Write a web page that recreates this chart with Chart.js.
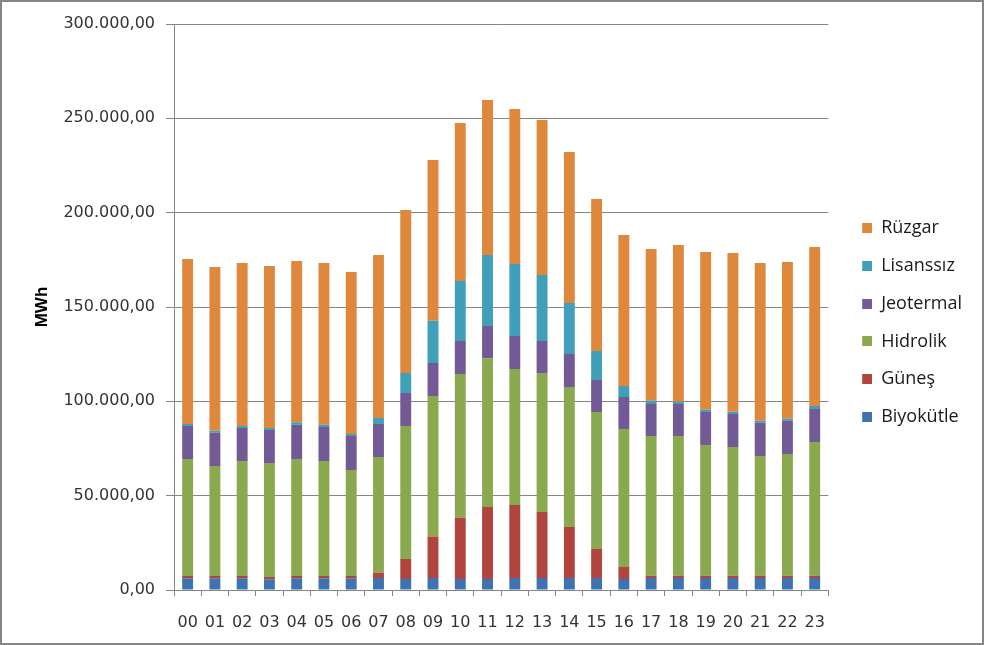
<!DOCTYPE html>
<html>
<head>
<meta charset="utf-8">
<script src="https://cdn.jsdelivr.net/npm/chart.js@4/dist/chart.umd.min.js"></script>
<style>
  html, body { margin: 0; padding: 0; background: #fff; }
  #wrap { width: 984px; height: 645px; position: relative; }
</style>
</head>
<body>
<div id="wrap"><canvas id="energy-chart"></canvas></div>
<script>
// hours of the day
const hours = ["00", "01", "02", "03", "04", "05", "06", "07", "08", "09", "10", "11",
  "12", "13", "14", "15", "16", "17", "18", "19", "20", "21", "22", "23"];

// MWh per source
const biyokutle = [6200, 6200, 6200, 5700, 6200, 6200, 6200, 6400, 5800, 6400, 5800, 5800,
  6400, 6400, 6400, 6400, 5800, 6400, 6400, 6400, 6400, 6400, 6400, 6400];
const gunes = [1200, 1200, 1200, 1200, 1200, 1200, 1200, 2800, 10600, 21900, 32500, 38200,
  38600, 34900, 27000, 15300, 6400, 1200, 1200, 1200, 1200, 1200, 1200, 1200];
const hidrolik = [62000, 58300, 61000, 60400, 62000, 61000, 56200, 61300, 70500, 74500, 76200, 78900,
  72100, 73700, 74200, 72600, 73100, 74000, 74000, 69200, 68200, 63400, 64500, 70800];
const jeotermal = [17500, 17700, 17500, 17500, 18200, 18000, 18000, 17500, 17500, 17500, 17500, 17000,
  17500, 17000, 17500, 17000, 17000, 17000, 17000, 17500, 17500, 17700, 17600, 17500];
const lisanssiz = [1100, 1000, 1000, 1100, 1300, 1200, 1100, 3100, 10600, 22400, 31800, 37600,
  38200, 34900, 27000, 15400, 5800, 1700, 1200, 1200, 1200, 1000, 1100, 1600];
const ruzgar = [87400, 86800, 86400, 85800, 85500, 85700, 85800, 86400, 86400, 85200, 83700, 82200,
  82100, 82200, 80000, 80500, 80000, 80400, 83000, 83600, 84100, 83600, 83000, 84300];

const yMax = 300000;
const yStep = 50000;

// 150000 -> "150.000,00"
function trNumber(v) {
  return Math.round(v).toString().replace(/\B(?=(\d{3})+(?!\d))/g, ".") + ",00";
}

const axisGray = "#868686";

// outer frame like the excel chart border
const framePlugin = {
  id: "frame",
  afterDraw(chart) {
    const ctx = chart.ctx;
    ctx.save();
    ctx.strokeStyle = axisGray;
    ctx.lineWidth = 2;
    ctx.strokeRect(1, 1, chart.width - 2, chart.height - 2);
    ctx.restore();
  }
};

// legend marker: 10x10 square sitting on the right of a wider transparent strip,
// so the square stands further away from the plot like in excel
function legendSwatch(color) {
  const c = document.createElement("canvas");
  c.width = 24;
  c.height = 10;
  const g = c.getContext("2d");
  g.fillStyle = color;
  g.fillRect(14, 0, 10, 10);
  return c;
}

const series = [
  { label: "Biyokütle", data: biyokutle, color: "#3f72b0" },
  { label: "Güneş", data: gunes, color: "#b0453f" },
  { label: "Hidrolik", data: hidrolik, color: "#8aa84e" },
  { label: "Jeotermal", data: jeotermal, color: "#715a95" },
  { label: "Lisanssız", data: lisanssiz, color: "#41a0b9" },
  { label: "Rüzgar", data: ruzgar, color: "#df873b" }
];

const chartCanvas = document.getElementById("energy-chart");

const energyChart = new Chart(chartCanvas, {
  type: "bar",
  data: {
    labels: hours,
    datasets: series.map((s) => ({
      label: s.label,
      data: s.data,
      backgroundColor: s.color,
      borderWidth: 0,
      barPercentage: 0.4,
      categoryPercentage: 1
    }))
  },
  options: {
    responsive: true,
    maintainAspectRatio: false,
    animation: false,
    layout: {
      padding: { top: 0, left: 0, bottom: 0, right: 12 }
    },
    plugins: {
      tooltip: { enabled: false },
      // empty title only keeps 24px free above the plot
      title: {
        display: true,
        text: "",
        padding: 0,
        font: { size: 20, lineHeight: 1.2 }
      },
      legend: {
        position: "right",
        reverse: true,
        labels: {
          usePointStyle: true,
          pointStyleWidth: 24,
          boxHeight: 10,
          padding: 19.8,
          color: "#1a1a1a",
          font: { family: "'Open Sans', sans-serif", size: 18 },
          generateLabels: (chart) =>
            Chart.defaults.plugins.legend.labels.generateLabels(chart).map((item) => {
              item.pointStyle = legendSwatch(item.fillStyle);
              return item;
            })
        }
      }
    },
    scales: {
      x: {
        stacked: true,
        afterFit: (scale) => { scale.height = 55; },
        border: { color: axisGray, width: 1 },
        grid: {
          offset: true,
          drawOnChartArea: false,
          color: axisGray,
          tickLength: 6
        },
        ticks: {
          padding: 17,
          color: "#333",
          maxRotation: 0,
          autoSkip: false,
          font: { family: "'DejaVu Sans', sans-serif", size: 16 }
        }
      },
      y: {
        stacked: true,
        min: 0,
        max: yMax,
        afterFit: (scale) => { scale.width = 174; },
        border: { color: axisGray, width: 1 },
        grid: {
          color: axisGray,
          tickLength: 8
        },
        ticks: {
          stepSize: yStep,
          padding: 11,
          color: "#333",
          font: { family: "'DejaVu Sans', sans-serif", size: 16 },
          callback: (v) => trNumber(v)
        },
        title: {
          display: true,
          text: "MWh",
          color: "#000",
          padding: { top: 32, bottom: 0 },
          font: { family: "'Liberation Sans', sans-serif", size: 17, weight: "bold" }
        }
      }
    }
  },
  plugins: [framePlugin]
});
</script>
</body>
</html>
